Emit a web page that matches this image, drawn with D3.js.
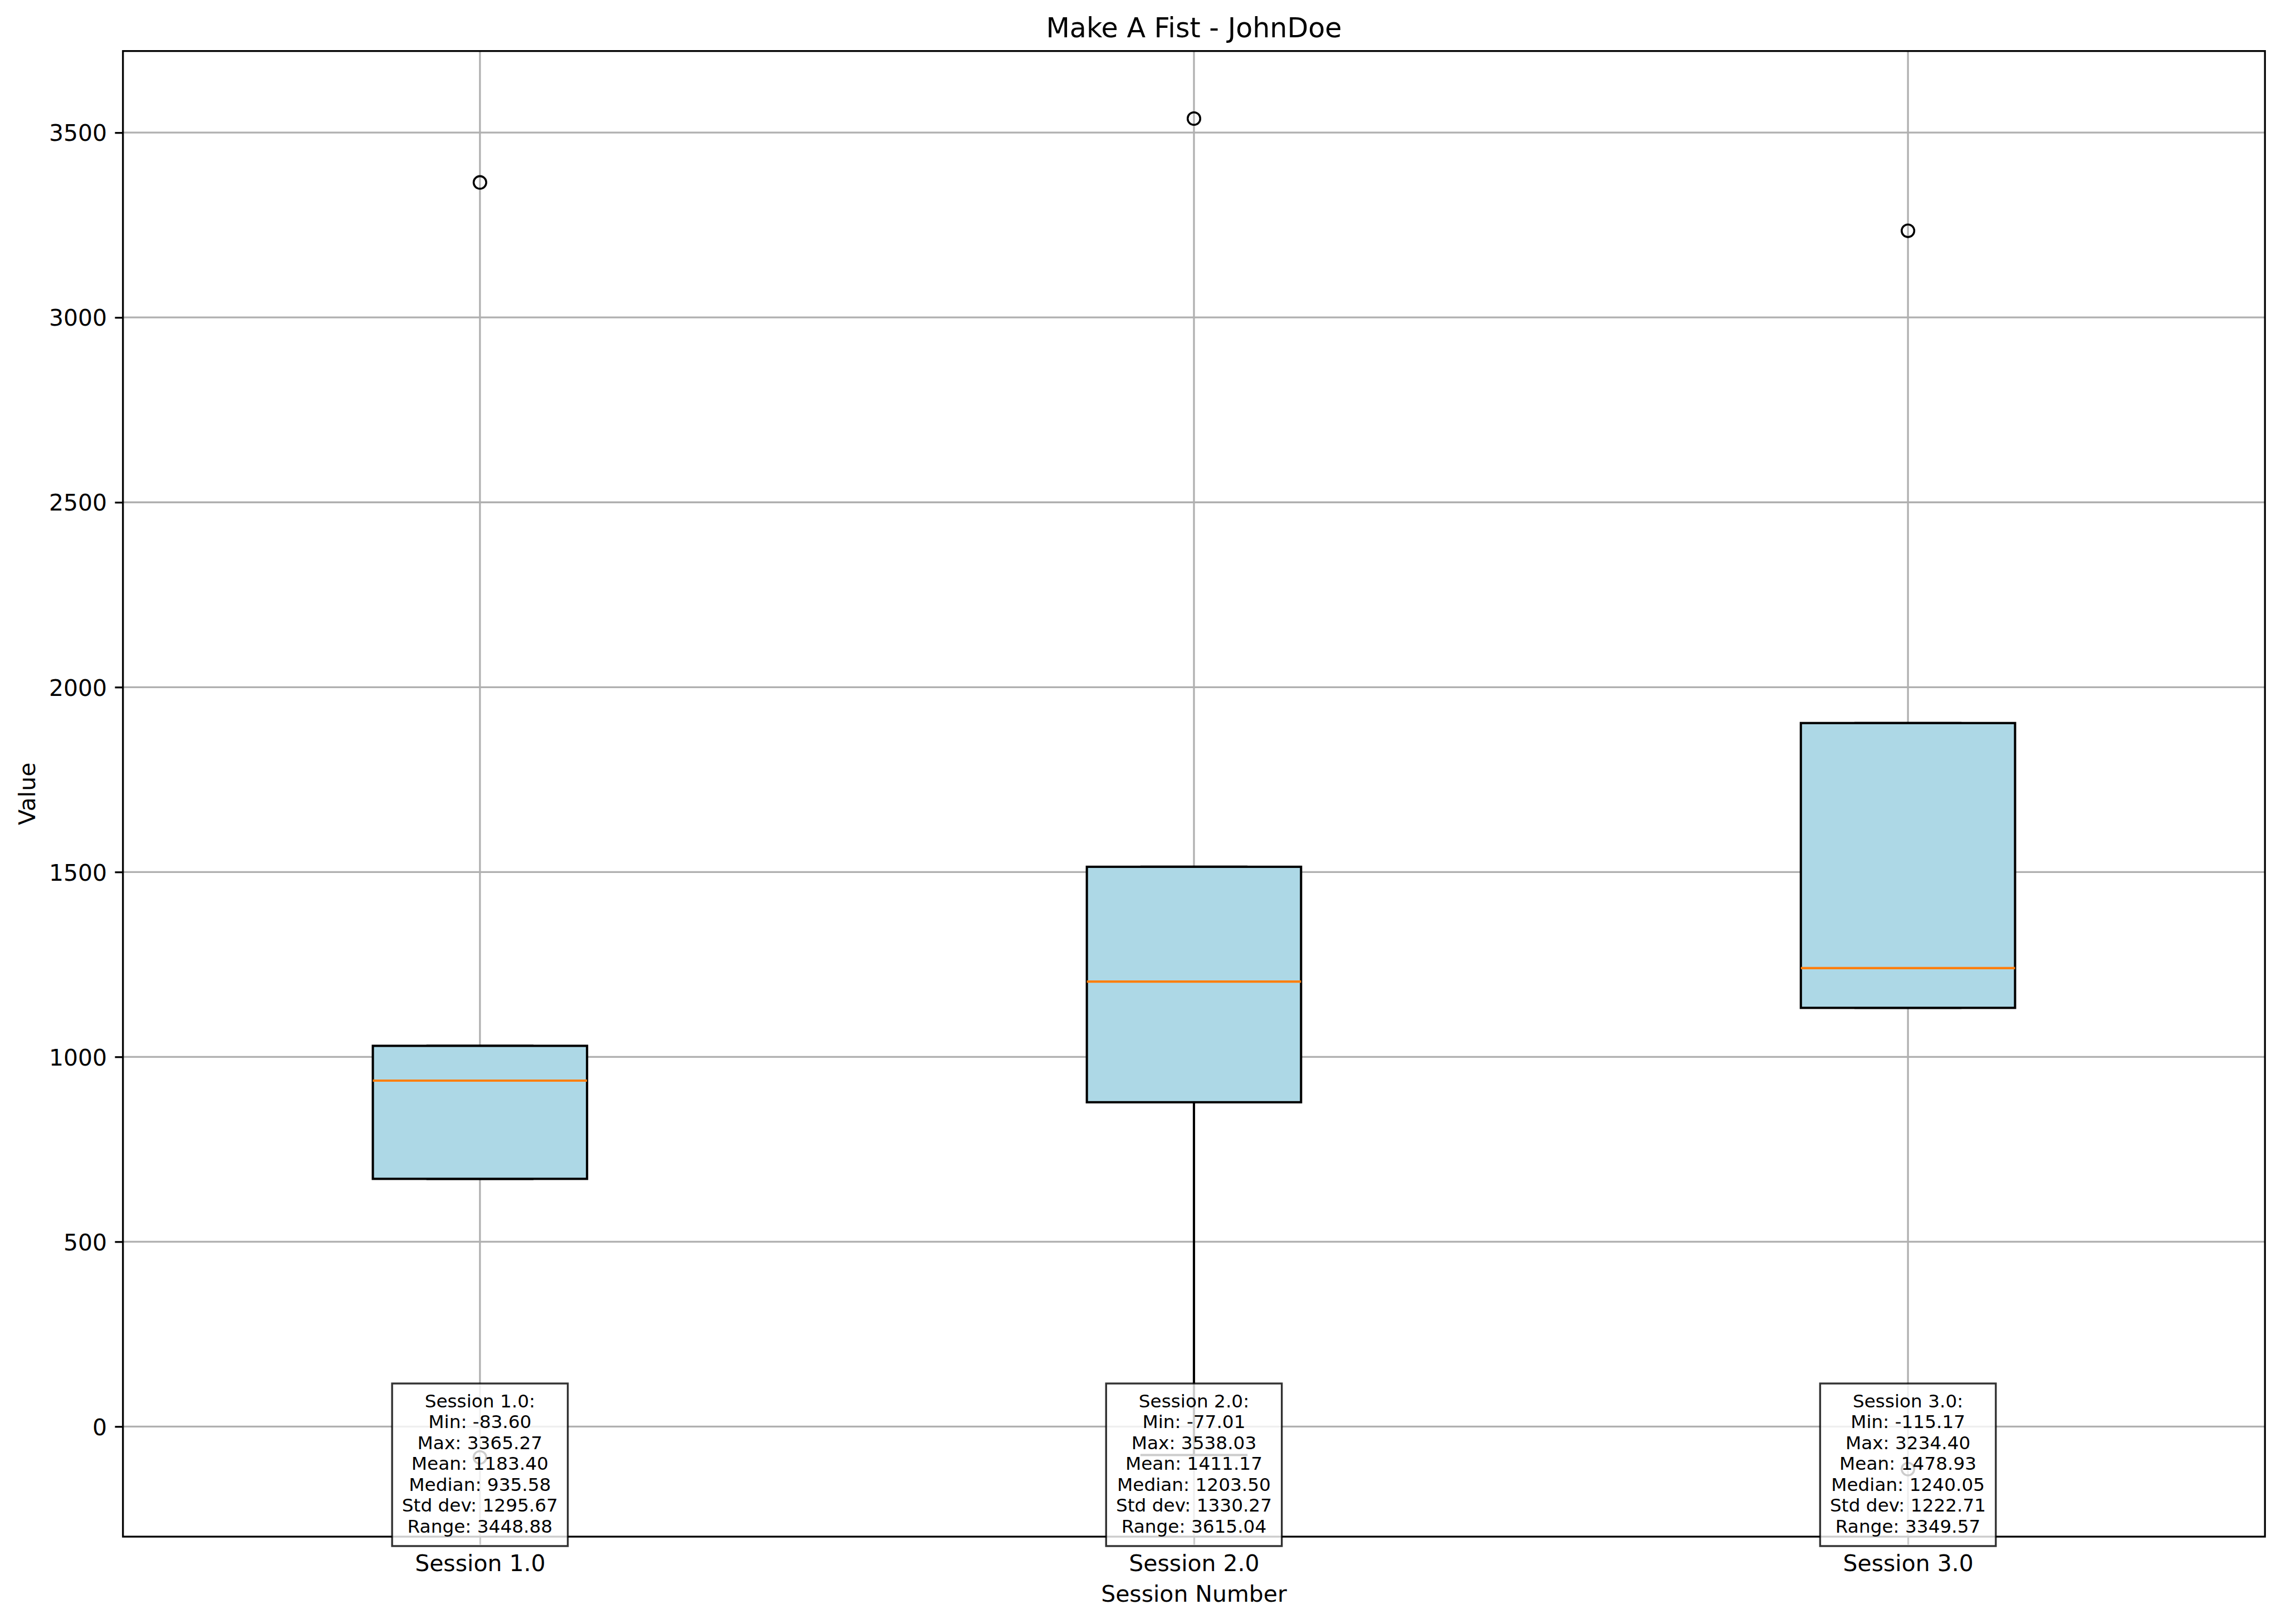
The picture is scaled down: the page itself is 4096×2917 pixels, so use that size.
<!DOCTYPE html>
<html>
<head>
<meta charset="utf-8">
<script src="https://cdn.jsdelivr.net/npm/d3@7"></script>
<style>
  html, body { margin: 0; padding: 0; background: #ffffff; }
  svg { display: block; }
  text { font-family: "DejaVu Sans", sans-serif; }
</style>
</head>
<body>
<div id="chart"></div>
<script>
// ---------------- data ----------------
const chartTitle = "Make A Fist - JohnDoe";
const xLabel = "Session Number";
const yLabel = "Value";
const sessions = ["Session 1.0", "Session 2.0", "Session 3.0"];
const positions = [1, 2, 3];
const session1Values = [-83.60, 670.0, 935.58, 1029.8, 3365.27];
const session2Values = [-77.01, 877.2, 1203.50, 1514.1, 3538.03];
const session3Values = [-115.17, 1132.5, 1240.05, 1902.9, 3234.40];
// printed summary statistics
const statMin = [-83.60, -77.01, -115.17];
const statMax = [3365.27, 3538.03, 3234.40];
const statMean = [1183.40, 1411.17, 1478.93];
const statMedian = [935.58, 1203.50, 1240.05];
const statStd = [1295.67, 1330.27, 1222.71];
const statRange = [3448.88, 3615.04, 3349.57];
const yTicks = [0, 500, 1000, 1500, 2000, 2500, 3000, 3500];

// ---------------- layout (reference pixel space) ----------------
const W = 4169, H = 2969;
const L = 224.7, R = 4139.7, T = 93.3, B = 2809.3;
const tickFont = 41.67, titleFont = 50, boxFont = 33.33;
const tickLen = 14.6, tickPad = 14.6;
const spineW = 3.33, lineW = 4.17;

const svg = d3.select("#chart").append("svg")
  .attr("width", 4096).attr("height", 2917)
  .attr("viewBox", `0 0 ${W} ${H}`);
svg.append("rect").attr("width", W).attr("height", H).attr("fill", "#ffffff");

const allValues = [session1Values, session2Values, session3Values];
const stats = allValues.map((vals, i) => {
  const s = vals.slice().sort(d3.ascending);
  const q1 = d3.quantile(s, 0.25), med = d3.quantile(s, 0.5), q3 = d3.quantile(s, 0.75);
  const iqr = q3 - q1;
  const lo = d3.min(s.filter(v => v >= q1 - 1.5 * iqr));
  const hi = d3.max(s.filter(v => v <= q3 + 1.5 * iqr));
  const fliers = s.filter(v => v < lo || v > hi);
  return { pos: positions[i], q1, med, q3, lo, hi, fliers };
});

const dMin = d3.min(allValues.flat()), dMax = d3.max(allValues.flat());
const span = dMax - dMin;
const x = d3.scaleLinear().domain([0.5, 3.5]).range([L, R]);
const y = d3.scaleLinear().domain([dMin - 0.05 * span, dMax + 0.05 * span]).range([B, T]);
const boxHalf = 0.15, capHalf = 0.075;

svg.append("clipPath").attr("id", "plotclip").append("rect")
  .attr("x", L).attr("y", T).attr("width", R - L).attr("height", B - T);

// grid
const grid = svg.append("g").attr("clip-path", "url(#plotclip)");
grid.selectAll("line.gy").data(yTicks).join("line")
  .attr("x1", L).attr("x2", R).attr("y1", d => y(d)).attr("y2", d => y(d))
  .attr("stroke", "#b0b0b0").attr("stroke-width", spineW);
grid.selectAll("line.gx").data(positions).join("line")
  .attr("x1", d => x(d)).attr("x2", d => x(d)).attr("y1", T).attr("y2", B)
  .attr("stroke", "#b0b0b0").attr("stroke-width", spineW);

// boxes
const plot = svg.append("g").attr("clip-path", "url(#plotclip)");
const g = plot.selectAll("g.box").data(stats).join("g");
// whiskers
g.append("line").attr("x1", d => x(d.pos)).attr("x2", d => x(d.pos))
  .attr("y1", d => y(d.q1)).attr("y2", d => y(d.lo))
  .attr("stroke", "#000").attr("stroke-width", lineW);
g.append("line").attr("x1", d => x(d.pos)).attr("x2", d => x(d.pos))
  .attr("y1", d => y(d.q3)).attr("y2", d => y(d.hi))
  .attr("stroke", "#000").attr("stroke-width", lineW);
// caps
g.append("line").attr("x1", d => x(d.pos - capHalf)).attr("x2", d => x(d.pos + capHalf))
  .attr("y1", d => y(d.lo)).attr("y2", d => y(d.lo))
  .attr("stroke", "#000").attr("stroke-width", lineW);
g.append("line").attr("x1", d => x(d.pos - capHalf)).attr("x2", d => x(d.pos + capHalf))
  .attr("y1", d => y(d.hi)).attr("y2", d => y(d.hi))
  .attr("stroke", "#000").attr("stroke-width", lineW);
// box
g.append("rect")
  .attr("x", d => x(d.pos - boxHalf)).attr("width", d => x(d.pos + boxHalf) - x(d.pos - boxHalf))
  .attr("y", d => y(d.q3)).attr("height", d => y(d.q1) - y(d.q3))
  .attr("fill", "#add8e6").attr("stroke", "#000").attr("stroke-width", lineW);
// median
g.append("line").attr("x1", d => x(d.pos - boxHalf)).attr("x2", d => x(d.pos + boxHalf))
  .attr("y1", d => y(d.med)).attr("y2", d => y(d.med))
  .attr("stroke", "#ff7f0e").attr("stroke-width", lineW);
// fliers
g.each(function (d) {
  d3.select(this).selectAll("circle").data(d.fliers).join("circle")
    .attr("cx", x(d.pos)).attr("cy", v => y(v)).attr("r", 11.5)
    .attr("fill", "none").attr("stroke", "#000").attr("stroke-width", 3.6);
});

// axes
const yAxis = svg.append("g").attr("transform", `translate(${L},0)`)
  .call(d3.axisLeft(y).tickValues(yTicks).tickSize(tickLen).tickPadding(tickPad).tickFormat(d3.format("d")));
const xAxis = svg.append("g").attr("transform", `translate(0,${B})`)
  .call(d3.axisBottom(x).tickValues(positions).tickSize(tickLen).tickPadding(tickPad).tickFormat((d, i) => sessions[i]));
[yAxis, xAxis].forEach(a => {
  a.select(".domain").remove();
  a.selectAll(".tick line").attr("stroke", "#000").attr("stroke-width", spineW);
  a.selectAll(".tick text").attr("font-family", "DejaVu Sans").attr("font-size", tickFont).attr("fill", "#000");
});
yAxis.selectAll(".tick text").attr("dy", "0.36em");
xAxis.selectAll(".tick text").attr("dy", "0.8em");

// spines
svg.append("rect").attr("x", L).attr("y", T).attr("width", R - L).attr("height", B - T)
  .attr("fill", "none").attr("stroke", "#000").attr("stroke-width", spineW);

// title & labels
svg.append("text").attr("x", (L + R) / 2).attr("y", T - 25)
  .attr("text-anchor", "middle").attr("font-size", titleFont).attr("fill", "#000").text(chartTitle);
svg.append("text").attr("x", (L + R) / 2).attr("y", 2928.3)
  .attr("text-anchor", "middle").attr("font-size", tickFont).attr("fill", "#000").text(xLabel);
svg.append("text").attr("transform", `translate(64,${(T + B) / 2}) rotate(-90)`)
  .attr("text-anchor", "middle").attr("font-size", tickFont).attr("fill", "#000").text(yLabel);

// stat text boxes
const f2 = v => v.toFixed(2);
const boxTop = B - 280;
const lineStep = 38.2;
positions.forEach((p, i) => {
  const lines = [
    `${sessions[i]}:`,
    `Min: ${f2(statMin[i])}`,
    `Max: ${f2(statMax[i])}`,
    `Mean: ${f2(statMean[i])}`,
    `Median: ${f2(statMedian[i])}`,
    `Std dev: ${f2(statStd[i])}`,
    `Range: ${f2(statRange[i])}`
  ];
  const tg = svg.append("g");
  const rect = tg.append("rect");
  const texts = tg.selectAll("text").data(lines).join("text")
    .attr("x", x(p)).attr("y", (d, k) => boxTop + 43.4 + k * lineStep)
    .attr("text-anchor", "middle").attr("font-size", boxFont).attr("fill", "#000")
    .text(d => d);
  let maxW = 0;
  texts.each(function () { maxW = Math.max(maxW, this.getComputedTextLength()); });
  const bw = maxW + 36;
  const lastBase = boxTop + 43.4 + (lines.length - 1) * lineStep;
  rect.attr("x", x(p) - bw / 2).attr("y", boxTop).attr("width", bw).attr("height", lastBase + 24.6 - boxTop)
    .attr("fill", "#ffffff").attr("fill-opacity", 0.8)
    .attr("stroke", "#000").attr("stroke-opacity", 0.8).attr("stroke-width", 3.5);
});
</script>
</body>
</html>
